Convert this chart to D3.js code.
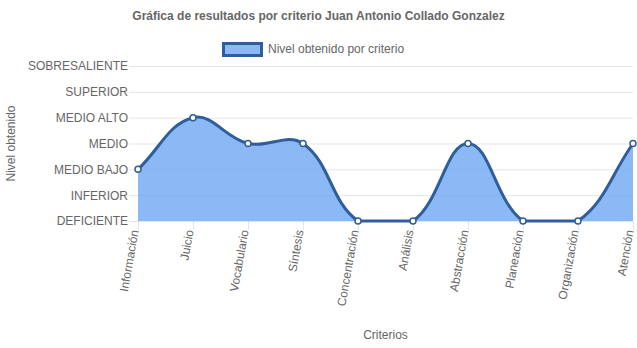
<!DOCTYPE html>
<html><head><meta charset="utf-8">
<script src="https://cdn.jsdelivr.net/npm/d3@7"></script>
<style>
html,body{margin:0;padding:0;background:#fff;}
svg{display:block;font-family:"Liberation Sans",Arial,Helvetica,sans-serif;}
</style></head>
<body><svg id="c" width="637" height="348"></svg>
<script>
const categories = ["Información","Juicio","Vocabulario","Síntesis","Concentración","Análisis","Abstracción","Planeación","Organización","Atención"];
const values = [2,4,3,3,0,0,3,0,0,3];
const levelLabels = ["DEFICIENTE","INFERIOR","MEDIO BAJO","MEDIO","MEDIO ALTO","SUPERIOR","SOBRESALIENTE"];
const titleText = "Gráfica de resultados por criterio Juan Antonio Collado Gonzalez";
const seriesName = "Nivel obtenido por criterio";
const yTitle = "Nivel obtenido";
const xTitle = "Criterios";

const W = 637, H = 348;
const area = {left:138, right:633, top:66, bottom:221};
const fillColor = "rgba(109,168,243,0.8)";
const legendFill = "rgb(138,185,245)";
const lineColor = "rgb(47,94,154)";
const gridColor = "rgba(0,0,0,0.1)";
const textColor = "#666";

const svg = d3.select("#c");
const x = d3.scalePoint().domain(categories).range([area.left, area.right]);
const y = d3.scaleLinear().domain([0, levelLabels.length-1]).range([area.bottom, area.top]);

// title
svg.append("text").attr("x", W/2).attr("y", 17).attr("text-anchor","middle")
  .attr("dominant-baseline","middle").attr("font-size",12).attr("font-weight","bold")
  .attr("fill",textColor).text(titleText);

// legend
const lg = svg.append("g");
lg.append("rect").attr("x",223.5).attr("y",43.5).attr("width",38).attr("height",12)
  .attr("fill",legendFill).attr("stroke",lineColor).attr("stroke-width",3);
lg.append("text").attr("x",268).attr("y",50).attr("dominant-baseline","middle")
  .attr("font-size",12).attr("fill",textColor).text(seriesName);

// horizontal grid + y ticks
const yAxis = d3.axisLeft(y).tickValues(d3.range(levelLabels.length))
  .tickFormat(i => levelLabels[i]).tickSize(-(area.right-area.left)).tickSizeOuter(0).tickPadding(10);
const gy = svg.append("g").attr("transform",`translate(${area.left},0)`).call(yAxis);
gy.select(".domain").remove();
gy.selectAll(".tick line").attr("stroke",gridColor).attr("x1",-9);
gy.selectAll(".tick text").attr("font-size",12).attr("fill",textColor)
  .attr("font-family","Liberation Sans, Arial, sans-serif");

// vertical grid + x ticks
const xAxis = d3.axisBottom(x).tickSize(-(area.bottom-area.top)).tickSizeOuter(0).tickFormat("");
const gx = svg.append("g").attr("transform",`translate(0,${area.bottom})`).call(xAxis);
gx.select(".domain").remove();
gx.selectAll(".tick line").attr("stroke",gridColor).attr("y2",9);
gx.selectAll(".tick").append("text")
  .attr("transform","translate(-3,9) rotate(-80)")
  .attr("text-anchor","end").attr("dominant-baseline","middle")
  .attr("font-size",12).attr("fill",textColor)
  .text(d=>d);
gx.selectAll(".tick text").attr("font-family","Liberation Sans, Arial, sans-serif");

// axis titles
svg.append("text").attr("transform",`translate(12,${(area.top+area.bottom)/2}) rotate(-90)`)
  .attr("text-anchor","middle").attr("dominant-baseline","middle")
  .attr("font-size",12).attr("fill",textColor).text(yTitle);
svg.append("text").attr("x",(area.left+area.right)/2).attr("y",336)
  .attr("text-anchor","middle").attr("dominant-baseline","middle")
  .attr("font-size",12).attr("fill",textColor).text(xTitle);

// Chart.js-like spline with tension 0.4 and capped control points
const pts = categories.map((c,i)=>({x:x(c), y:y(values[i])}));
const t = 0.4;
pts.forEach((cur,i)=>{
  const prev = pts[i-1] || cur, next = pts[i+1] || cur;
  const d01 = Math.hypot(cur.x-prev.x, cur.y-prev.y);
  const d12 = Math.hypot(next.x-cur.x, next.y-cur.y);
  let s01 = d01/(d01+d12), s12 = d12/(d01+d12);
  if (isNaN(s01)) s01 = 0; if (isNaN(s12)) s12 = 0;
  const fa = t*s01, fb = t*s12;
  const cap = (v,a,b)=>Math.max(Math.min(v,b),a);
  cur.cpPrev = {x:cap(cur.x - fa*(next.x-prev.x),area.left,area.right), y:cap(cur.y - fa*(next.y-prev.y),area.top,area.bottom)};
  cur.cpNext = {x:cap(cur.x + fb*(next.x-prev.x),area.left,area.right), y:cap(cur.y + fb*(next.y-prev.y),area.top,area.bottom)};
});
function linePath(p){
  p.moveTo(pts[0].x, pts[0].y);
  for (let i=1;i<pts.length;i++){
    const a=pts[i-1], b=pts[i];
    p.bezierCurveTo(a.cpNext.x,a.cpNext.y,b.cpPrev.x,b.cpPrev.y,b.x,b.y);
  }
  return p;
}
const areaP = linePath(d3.path());
areaP.lineTo(pts[pts.length-1].x, area.bottom);
areaP.lineTo(pts[0].x, area.bottom);
areaP.closePath();
svg.append("path").attr("d",areaP.toString()).attr("fill",fillColor);
svg.append("path").attr("d",linePath(d3.path()).toString()).attr("fill","none")
  .attr("stroke",lineColor).attr("stroke-width",3);

svg.append("g").selectAll("circle").data(pts).join("circle")
  .attr("cx",d=>d.x).attr("cy",d=>d.y).attr("r",3)
  .attr("fill","#fff").attr("stroke",lineColor).attr("stroke-width",1.5);
</script></body></html>
